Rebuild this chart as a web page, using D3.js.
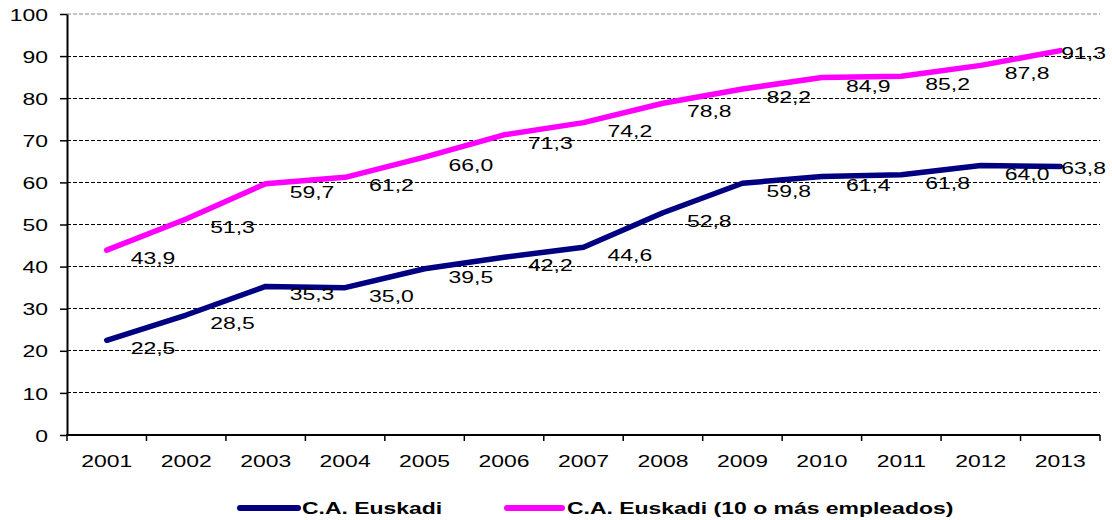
<!DOCTYPE html>
<html>
<head>
<meta charset="utf-8">
<script src="https://cdn.jsdelivr.net/npm/d3@7"></script>
<style>
  html, body { margin: 0; padding: 0; background: #fff; }
  svg { display: block; font-family: "Liberation Sans", Arial, sans-serif; }
</style>
</head>
<body>
<svg id="chart" width="1112" height="520"></svg>
<script>
// Years on the category axis
const years = ["2001","2002","2003","2004","2005","2006","2007","2008","2009","2010","2011","2012","2013"];
// Percentages per year
const euskadi = [22.5, 28.5, 35.3, 35.0, 39.5, 42.2, 44.6, 52.8, 59.8, 61.4, 61.8, 64.0, 63.8];
const euskadi10 = [43.9, 51.3, 59.7, 61.2, 66.0, 71.3, 74.2, 78.8, 82.2, 84.9, 85.2, 87.8, 91.3];
const yTicks = [0, 10, 20, 30, 40, 50, 60, 70, 80, 90, 100];
const seriesNames = ["C.A. Euskadi", "C.A. Euskadi (10 o más empleados)"];
const seriesColors = ["#000080", "#ff00ff"];

const W = 1112, H = 520;
const plotLeft = 67, plotRight = 1100, plotTop = 14, plotBottom = 435;
const SX = 1.35; // horizontal stretch of the text

const svg = d3.select("#chart");

const x = d3.scaleBand().domain(years).range([plotLeft, plotRight]).paddingInner(0).paddingOuter(0);
const y = d3.scaleLinear().domain([0, 100]).range([plotBottom, plotTop]);
const cx = d => x(d) + x.bandwidth() / 2;

// Horizontal gridlines
svg.append("g").selectAll("line")
  .data(yTicks.filter(t => t > 0))
  .join("line")
  .attr("x1", plotLeft).attr("x2", plotRight)
  .attr("y1", d => y(d)).attr("y2", d => y(d))
  .attr("stroke", d => d === 100 ? "#c4c4c4" : "#000")
  .attr("stroke-width", d => d === 100 ? 1.5 : 1)
  .attr("stroke-dasharray", "4,2")
  .attr("shape-rendering", "crispEdges");

// Y axis
const yAxis = svg.append("g")
  .attr("transform", `translate(${plotLeft},0)`)
  .call(d3.axisLeft(y).tickValues(yTicks).tickSize(7).tickSizeOuter(0).tickFormat(d3.format("d")));
yAxis.select(".domain").attr("stroke", "#000").attr("stroke-width", 2);
yAxis.selectAll(".tick line").attr("stroke", "#000").attr("stroke-width", 1.5);
yAxis.selectAll(".tick text")
  .attr("x", -19 / SX)
  .attr("dy", "0.36em")
  .attr("transform", `scale(${SX},1)`)
  .attr("font-size", 17)
  .attr("fill", "#000")
  .attr("font-family", "Liberation Sans, Arial, sans-serif");

// X axis: labels at band centres, tick marks at band edges
const xAxis = svg.append("g")
  .attr("transform", `translate(0,${plotBottom})`)
  .call(d3.axisBottom(x).tickSize(0).tickSizeOuter(0));
xAxis.select(".domain").remove();
xAxis.selectAll(".tick text")
  .attr("y", 32)
  .attr("dy", 0)
  .attr("transform", `scale(${SX},1)`)
  .attr("font-size", 17)
  .attr("fill", "#000")
  .attr("font-family", "Liberation Sans, Arial, sans-serif");

const edges = years.map(d => x(d)).concat([x(years[years.length - 1]) + x.bandwidth()]);
svg.append("g").selectAll("line")
  .data(edges)
  .join("line")
  .attr("x1", d => d).attr("x2", d => d)
  .attr("y1", plotBottom).attr("y2", plotBottom + 6)
  .attr("stroke", "#000").attr("stroke-width", 1.5);
svg.append("line")
  .attr("x1", plotLeft - 1).attr("x2", plotRight)
  .attr("y1", plotBottom).attr("y2", plotBottom)
  .attr("stroke", "#000").attr("stroke-width", 2);

// Lines
const line = d3.line().x((d, i) => cx(years[i])).y(d => y(d));
[euskadi, euskadi10].forEach((vals, k) => {
  svg.append("path")
    .datum(vals)
    .attr("d", line)
    .attr("fill", "none")
    .attr("stroke", seriesColors[k])
    .attr("stroke-width", 5.5)
    .attr("stroke-linejoin", "round")
    .attr("stroke-linecap", "round");
});

// Value labels, below-right of each point; kept inside the chart at the right edge
const fmt = v => d3.format(".1f")(v).replace(".", ",");
[euskadi, euskadi10].forEach(vals => {
  const g = svg.append("g");
  vals.forEach((v, i) => {
    const px = cx(years[i]), py = y(v);
    const t = g.append("text")
      .attr("font-size", 17)
      .attr("fill", "#000")
      .text(fmt(v));
    const w = t.node().getComputedTextLength() * SX;
    let lx = px + 24, ly = py + 14;
    if (lx + w > W - 4) { lx = px + 1; ly = py + 8; }
    t.attr("transform", `translate(${lx},${ly}) scale(${SX},1)`);
  });
});

// Legend
const legendItems = [
  { x1: 240, x2: 298, tx: 302 },
  { x1: 507, x2: 562, tx: 567 }
];
legendItems.forEach((it, k) => {
  svg.append("line")
    .attr("x1", it.x1).attr("x2", it.x2)
    .attr("y1", 508).attr("y2", 508)
    .attr("stroke", seriesColors[k])
    .attr("stroke-width", 6)
    .attr("stroke-linecap", "round");
  svg.append("text")
    .attr("transform", `translate(${it.tx},514) scale(${SX},1)`)
    .attr("font-size", 17)
    .attr("font-weight", "bold")
    .attr("fill", "#000")
    .text(seriesNames[k]);
});
</script>
</body>
</html>
